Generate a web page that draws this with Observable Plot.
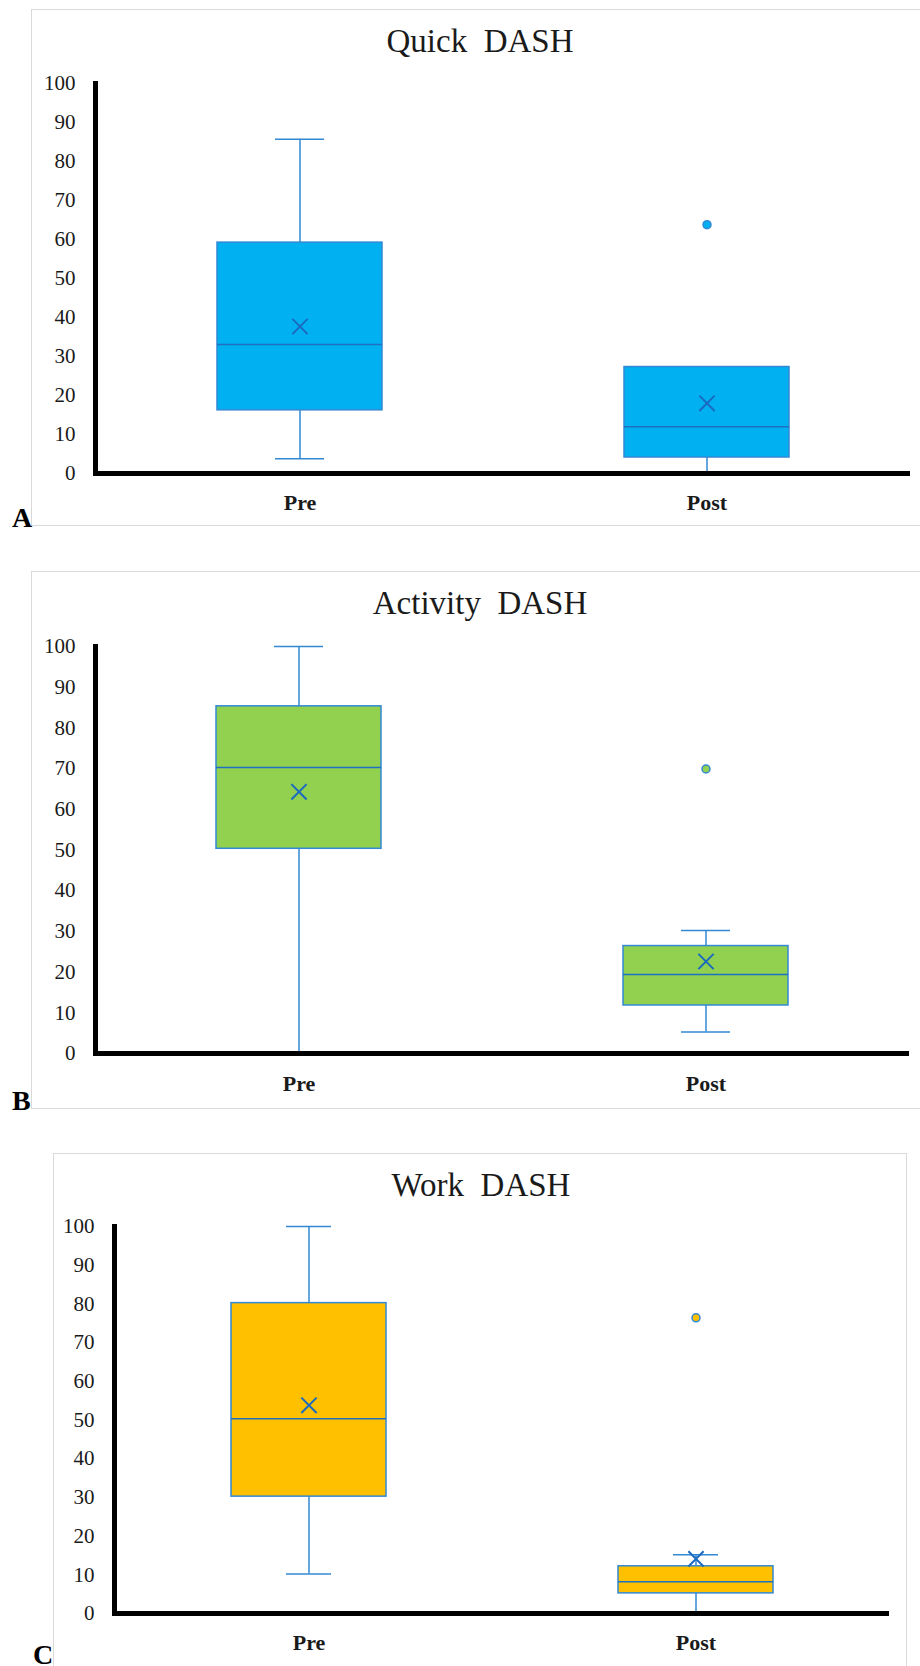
<!DOCTYPE html>
<html>
<head>
<meta charset="utf-8">
<script src="https://cdn.jsdelivr.net/npm/d3@7"></script>
<script src="https://cdn.jsdelivr.net/npm/@observablehq/plot@0.6"></script>
<style>
  html, body { margin: 0; padding: 0; background: #fff; }
  body { width: 920px; height: 1666px; position: relative; overflow: hidden;
         font-family: "Liberation Serif", "Times New Roman", serif; }
  .frame { position: absolute; border: 1px solid #d9d9d9; box-sizing: border-box; }
  .title { position: absolute; font-size: 33px; line-height: 33px; color: #1a1a1a;
           text-align: center; width: 600px; white-space: pre; }
  .letter { position: absolute; font-size: 28px; line-height: 28px; font-weight: bold; color: #000; }
  .chart { position: absolute; }
</style>
</head>
<body>
<script>
// ---- data ----
const categories = ["Pre", "Post"];
const titles = ["Quick  DASH", "Activity  DASH", "Work  DASH"];
const panelLetters = ["A", "B", "C"];
const boxColors = ["#00B0F0", "#92D050", "#FFC000"];
const yTicks = [0, 10, 20, 30, 40, 50, 60, 70, 80, 90, 100];

// Quick DASH  [Pre, Post]
const quickMin     = [3.8, 0];
const quickQ1      = [16.2, 4.1];
const quickMedian  = [33.1, 12.0];
const quickQ3      = [59.2, 27.3];
const quickMax     = [85.7, 27.3];
const quickMean    = [37.7, 18.0];
const quickOutliers = [[], [63.8]];

// Activity DASH  [Pre, Post]
const activityMin     = [0, 5.3];
const activityQ1      = [50.3, 11.8];
const activityMedian  = [70.3, 19.4];
const activityQ3      = [85.3, 26.4];
const activityMax     = [100, 30.2];
const activityMean    = [64.3, 22.6];
const activityOutliers = [[], [69.9]];

// Work DASH  [Pre, Post]
const workMin     = [10.2, 0];
const workQ1      = [30.2, 5.2];
const workMedian  = [50.3, 8.2];
const workQ3      = [80.2, 12.2];
const workMax     = [100, 15.2];
const workMean    = [53.8, 14.1];
const workOutliers = [[], [76.4]];

const series = [
  [quickMin, quickQ1, quickMedian, quickQ3, quickMax, quickMean, quickOutliers],
  [activityMin, activityQ1, activityMedian, activityQ3, activityMax, activityMean, activityOutliers],
  [workMin, workQ1, workMedian, workQ3, workMax, workMean, workOutliers]
];

// ---- layout (page pixels) ----
const layouts = [
  { frame: [31, 9, 890, 517], titleTop: 25, titleX: 480, letter: [12, 504],
    svg: [31, 60], width: 889, height: 463, mL: 64, mR: 10, mT: 23, mB: 50, xPad: 21, pi: 0.595, capInset: 58 },
  { frame: [31, 571, 890, 538], titleTop: 587, titleX: 480, letter: [12, 1087],
    svg: [31, 622], width: 889, height: 481, mL: 64, mR: 11, mT: 24, mB: 50, xPad: 22, pi: 0.595, capInset: 58 },
  { frame: [53, 1153, 854, 520], titleTop: 1169, titleX: 481, letter: [33, 1641],
    svg: [53, 1203], width: 854, height: 460, mL: 61, mR: 18, mT: 23, mB: 50, xPad: 21, pi: 0.6, capInset: 55 }
];

const lineBlue = "#3388D4";
const medianBlue = "#1F70C1";
const meanBlue = "#1A6AC0";

function addDiv(cls, css, text) {
  const d = document.createElement("div");
  d.className = cls;
  Object.assign(d.style, css);
  if (text != null) d.textContent = text;
  document.body.appendChild(d);
  return d;
}

series.forEach(([mins, q1s, meds, q3s, maxs, means, outs], i) => {
  const L = layouts[i];
  addDiv("frame", { left: L.frame[0] + "px", top: L.frame[1] + "px",
                    width: L.frame[2] + "px", height: L.frame[3] + "px" });
  addDiv("title", { left: (L.titleX - 300) + "px", top: L.titleTop + "px" }, titles[i]);

  const rows = categories.map((c, j) => ({
    cat: c, min: mins[j], q1: q1s[j], median: meds[j], q3: q3s[j], max: maxs[j], mean: means[j]
  }));
  const outlierRows = categories.flatMap((c, j) => outs[j].map(v => ({ cat: c, v })));

  const chart = Plot.plot({
    width: L.width, height: L.height,
    marginLeft: L.mL, marginRight: L.mR, marginTop: L.mT, marginBottom: L.mB,
    x: { domain: categories, paddingInner: L.pi, paddingOuter: L.pi / 2, axis: null },
    y: { domain: [0, 100], axis: null },
    style: { fontFamily: "Liberation Serif, Times New Roman, serif", color: "#1a1a1a", background: "transparent", overflow: "visible" },
    marks: [
      Plot.ruleX(rows, { x: "cat", y1: "min", y2: "q1", stroke: lineBlue, strokeWidth: 1.5 }),
      Plot.ruleX(rows, { x: "cat", y1: "q3", y2: "max", stroke: lineBlue, strokeWidth: 1.5 }),
      Plot.tickY(rows, { x: "cat", y: "max", stroke: lineBlue, strokeWidth: 1.5, insetLeft: L.capInset, insetRight: L.capInset }),
      Plot.tickY(rows, { x: "cat", y: "min", stroke: lineBlue, strokeWidth: 1.5, insetLeft: L.capInset, insetRight: L.capInset }),
      Plot.barY(rows, { x: "cat", y1: "q1", y2: "q3", fill: boxColors[i], stroke: lineBlue, strokeWidth: 1.5 }),
      Plot.tickY(rows, { x: "cat", y: "median", stroke: medianBlue, strokeWidth: 1.5 }),
      Plot.dot(rows, { x: "cat", y: "mean", symbol: "times", r: 7, stroke: meanBlue, strokeWidth: 2 }),
      Plot.dot(outlierRows, { x: "cat", y: "v", r: 4, fill: boxColors[i], stroke: lineBlue, strokeWidth: 1.5 }),
      Plot.axisY({ ticks: yTicks, tickSize: 0, tickPadding: 20, fontSize: 21, fill: "#1a1a1a", label: null }),
      Plot.axisX({ tickSize: 0, tickPadding: L.xPad, fontSize: 22, fontWeight: "bold", fill: "#1a1a1a", label: null }),
      Plot.ruleY([0], { stroke: "#000", strokeWidth: 5 }),
      Plot.frame({ anchor: "left", stroke: "#000", strokeWidth: 5 })
    ]
  });
  const wrap = addDiv("chart", { left: L.svg[0] + "px", top: L.svg[1] + "px" });
  wrap.appendChild(chart);
  addDiv("letter", { left: L.letter[0] + "px", top: L.letter[1] + "px" }, panelLetters[i]);
});
</script>
</body>
</html>
